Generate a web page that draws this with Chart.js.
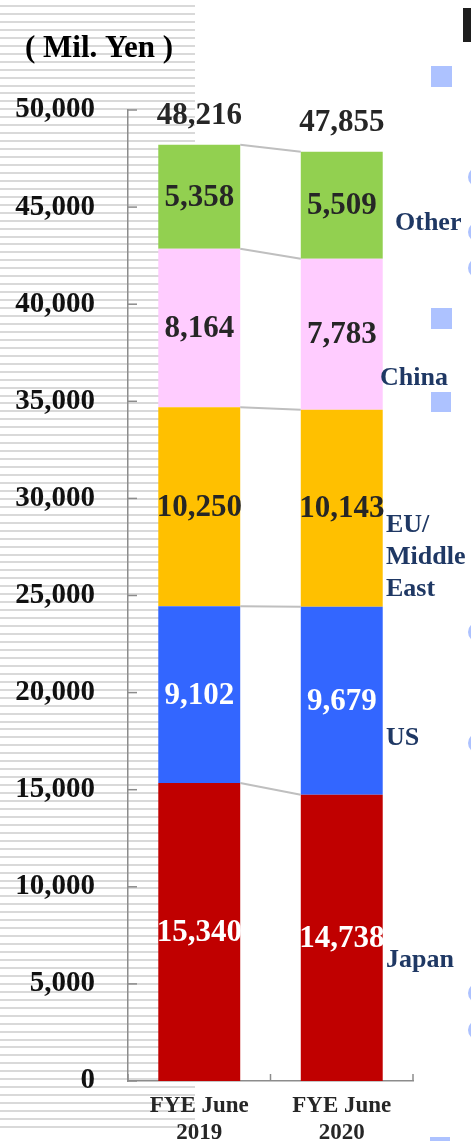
<!DOCTYPE html>
<html>
<head>
<meta charset="utf-8">
<script src="https://cdn.jsdelivr.net/npm/chart.js@4/dist/chart.umd.min.js"></script>
<style>
  html, body { margin: 0; padding: 0; background: #fff; }
  canvas { display: block; }
</style>
</head>
<body>
<canvas id="salesChart" width="471" height="1141"></canvas>
<script>
'use strict';

// sales by region, million yen
const years = [['FYE June', '2019'], ['FYE June', '2020']];
const regions = ['Japan', 'US', 'EU/Middle East', 'China', 'Other'];
const japan = [15340, 14738];
const us = [9102, 9679];
const euMiddleEast = [10250, 10143];
const china = [8164, 7783];
const other = [5358, 5509];
const totals = [48216, 47855];
const yTicks = [0, 5000, 10000, 15000, 20000, 25000, 30000, 35000, 40000, 45000, 50000];

const colors = ['#C00000', '#3366FF', '#FFC000', '#FFCCFF', '#92D050'];
const labelColors = ['#ffffff', '#ffffff', '#262626', '#262626', '#262626'];
// region names written beside the 2020 bar
const sideLabels = [
  { lines: ['Japan'], x: 386, y: 960 },
  { lines: ['US'], x: 386, y: 738 },
  { lines: ['EU/', 'Middle', 'East'], x: 386, y: 525 },
  { lines: ['China'], x: 380, y: 378 },
  { lines: ['Other'], x: 395, y: 223 }
];

const serif = '"Liberation Serif", "Times New Roman", serif';
const fmt = v => v.toLocaleString('en-US');

const ctx = document.getElementById('salesChart').getContext('2d');

const decorPlugin = {
  id: 'decor',
  beforeDraw(chart) {
    const c = chart.ctx;
    c.save();
    c.fillStyle = '#ffffff';
    c.fillRect(0, 0, chart.width, chart.height);
    // striped backdrop on the left
    c.fillStyle = '#d9d9d9';
    for (let y = 5; y < 1130; y += 7.95) {
      c.fillRect(0, Math.round(y), 195, 2);
    }
    // bullet shapes along the right edge
    c.fillStyle = '#adc2ff';
    [[431, 66, 21, 21], [431, 308, 21, 21], [431, 392, 20, 20], [430, 1137, 20, 4]].forEach(r => c.fillRect(...r));
    [177, 232, 268, 632, 743, 993, 1030].forEach(y => {
      c.beginPath();
      c.arc(478, y, 10, 0, Math.PI * 2);
      c.fill();
    });
    c.fillStyle = '#1e1e1e';
    c.fillRect(463, 8, 8, 34);
    c.fillStyle = '#000';
    c.font = 'bold 31px ' + serif;
    c.textAlign = 'left';
    c.textBaseline = 'middle';
    c.fillText('( Mil. Yen )', 25, 49);
    c.restore();
  },
  afterDatasetsDraw(chart) {
    const c = chart.ctx;
    const ys = chart.scales.y;
    const xs = chart.scales.x;
    c.save();

    // inward tick marks
    c.strokeStyle = '#8c8c8c';
    c.lineWidth = 1.5;
    yTicks.forEach(v => {
      const py = ys.getPixelForValue(v);
      c.beginPath();
      c.moveTo(xs.left, py);
      c.lineTo(xs.left + 9, py);
      c.stroke();
    });
    const step = (xs.right - xs.left) / years.length;
    for (let i = 0; i <= years.length; i++) {
      const px = xs.left + step * i;
      c.beginPath();
      c.moveTo(px, ys.bottom);
      c.lineTo(px, ys.bottom - 7);
      c.stroke();
    }

    // connector lines between the two stacks
    c.strokeStyle = '#bfbfbf';
    c.lineWidth = 2;
    chart.data.datasets.forEach((ds, i) => {
      const bars = chart.getDatasetMeta(i).data;
      const a = bars[0], b = bars[1];
      c.beginPath();
      c.moveTo(a.x + a.width / 2, a.y);
      c.lineTo(b.x - b.width / 2, b.y);
      c.stroke();
    });

    // segment values
    c.textAlign = 'center';
    c.textBaseline = 'middle';
    c.font = 'bold 31px ' + serif;
    chart.data.datasets.forEach((ds, i) => {
      chart.getDatasetMeta(i).data.forEach((bar, j) => {
        c.fillStyle = labelColors[i];
        c.fillText(fmt(ds.data[j]), bar.x, (bar.y + bar.base) / 2 + 1);
      });
    });

    // stack totals
    const topMeta = chart.getDatasetMeta(chart.data.datasets.length - 1);
    c.fillStyle = '#262626';
    totals.forEach((t, j) => {
      const bar = topMeta.data[j];
      c.fillText(fmt(t), bar.x, bar.y - 29);
    });

    // region names
    c.fillStyle = '#1f3864';
    c.textAlign = 'left';
    c.font = 'bold 26px ' + serif;
    sideLabels.forEach(s => {
      s.lines.forEach((line, k) => c.fillText(line, s.x, s.y + k * 32));
    });
    c.restore();
  }
};

const datasets = [japan, us, euMiddleEast, china, other].map((vals, i) => ({
  label: regions[i],
  data: vals,
  backgroundColor: colors[i],
  borderWidth: 0,
  barPercentage: 0.575,
  categoryPercentage: 1
}));

const salesChart = new Chart(ctx, {
  type: 'bar',
  data: { labels: years, datasets: datasets },
  options: {
    responsive: false,
    devicePixelRatio: 1,
    animation: false,
    layout: { padding: { top: 110, right: 58, left: 0, bottom: 0 } },
    plugins: { legend: { display: false }, tooltip: { enabled: false } },
    scales: {
      x: {
        stacked: true,
        offset: true,
        afterFit: s => { s.height = 60; },
        grid: { display: false },
        border: { display: true, color: '#8c8c8c', width: 1.5 },
        ticks: {
          color: '#262626',
          padding: 4,
          font: { family: serif, size: 23, weight: 'bold', lineHeight: 1.15 }
        }
      },
      y: {
        stacked: true,
        min: 0,
        max: 50000,
        afterFit: s => { s.width = 128; },
        afterBuildTicks: s => { s.ticks = yTicks.map(v => ({ value: v })); },
        grid: { display: false },
        border: { display: true, color: '#8c8c8c', width: 1.5 },
        ticks: {
          color: '#111',
          padding: 25,
          callback: v => fmt(v),
          font: { family: serif, size: 29, weight: 'bold' }
        }
      }
    }
  },
  plugins: [decorPlugin]
});
</script>
</body>
</html>
